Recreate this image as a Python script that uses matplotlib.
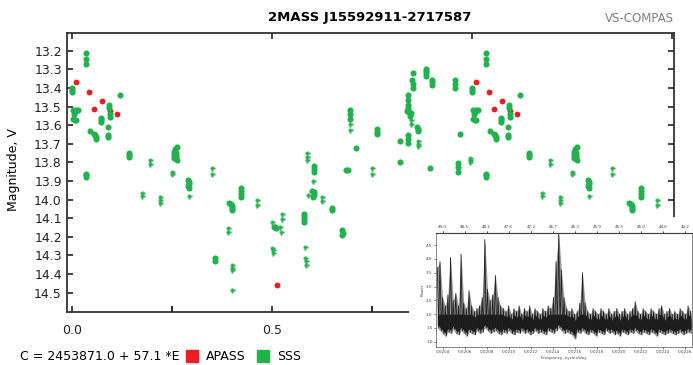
import numpy as np
import matplotlib
matplotlib.use("Agg")
import matplotlib.pyplot as plt
from matplotlib.lines import Line2D
from matplotlib.patches import Rectangle
from matplotlib.ticker import MultipleLocator

# phase-folded light curve, one cycle (0..1); shown again at phase + 1
sss_dot_phase = [0.000, 0.001, 0.002, 0.036, 0.036, 0.036, 0.122,
                 0.004, 0.008, 0.012, 0.015, 0.006,
                 0.094, 0.094, 0.095, 0.095, 0.004, 0.012, 0.008,
                 0.073, 0.073, 0.074, 0.091, 0.045,
                 0.056, 0.058, 0.060, 0.061, 0.092, 0.092,
                 0.143, 0.143, 0.143, 0.036, 0.036, 0.036,
                 0.258, 0.263, 0.255, 0.262, 0.256, 0.262, 0.257, 0.264,
                 0.292, 0.293, 0.294, 0.292, 0.293,
                 0.423, 0.423, 0.423, 0.423,
                 0.394, 0.399, 0.400, 0.400, 0.402,
                 0.505, 0.509, 0.512, 0.358, 0.358,
                 0.695, 0.695, 0.695, 0.764, 0.764, 0.764, 0.710,
                 0.607, 0.607, 0.607, 0.685, 0.690,
                 0.601, 0.605, 0.607, 0.603, 0.650, 0.651,
                 0.581, 0.581, 0.581, 0.581, 0.677, 0.679, 0.677,
                 0.885, 0.885, 0.885, 0.885, 0.854,
                 0.900, 0.900, 0.900, 0.958, 0.958, 0.958,
                 0.852, 0.853, 0.854, 0.842, 0.842, 0.842, 0.842,
                 0.838, 0.843, 0.848, 0.845, 0.864, 0.866, 0.866,
                 0.821, 0.842, 0.842, 0.842, 0.970, 0.821, 0.897,
                 0.966, 0.966, 0.966]
sss_dot_mag = [13.40, 13.41, 13.42, 13.21, 13.245, 13.27, 13.44,
               13.52, 13.53, 13.52, 13.52, 13.54,
               13.49, 13.51, 13.54, 13.555, 13.565, 13.57, 13.575,
               13.56, 13.57, 13.585, 13.61, 13.63,
               13.645, 13.655, 13.665, 13.675, 13.655, 13.665,
               13.75, 13.76, 13.77, 13.86, 13.87, 13.88,
               13.73, 13.72, 13.745, 13.75, 13.76, 13.765, 13.775, 13.79,
               13.895, 13.905, 13.915, 13.925, 13.94,
               13.94, 13.955, 13.97, 13.985,
               14.02, 14.025, 14.035, 14.045, 14.058,
               14.145, 14.15, 14.155, 14.315, 14.328,
               13.52, 13.54, 13.565, 13.62, 13.635, 13.65, 13.725,
               13.82, 13.835, 13.85, 13.84, 13.84,
               13.955, 13.96, 13.975, 13.985, 14.045, 14.055,
               14.075, 14.09, 14.105, 14.12, 14.165, 14.178, 14.19,
               13.30, 13.31, 13.32, 13.335, 13.32,
               13.355, 13.37, 13.385, 13.36, 13.38, 13.40,
               13.36, 13.38, 13.40, 13.44, 13.465, 13.49, 13.51,
               13.525, 13.53, 13.535, 13.55, 13.61, 13.62, 13.63,
               13.685, 13.655, 13.675, 13.695, 13.645, 13.80, 13.83,
               13.805, 13.825, 13.85]

sss_plus_phase = [0.197, 0.197, 0.177, 0.177, 0.221, 0.221, 0.221,
                  0.251, 0.251, 0.350, 0.350, 0.293, 0.464, 0.464, 0.500,
                  0.390, 0.390, 0.502, 0.503, 0.503,
                  0.400, 0.400, 0.400, 0.400,
                  0.696, 0.696, 0.589, 0.589, 0.589, 0.752, 0.752,
                  0.604, 0.592, 0.627, 0.625, 0.526, 0.527, 0.522, 0.523,
                  0.583, 0.584, 0.585, 0.586, 0.848, 0.848,
                  0.865, 0.865, 0.865, 0.996, 0.996, 0.996]
sss_plus_mag = [13.79, 13.81, 13.965, 13.98, 13.985, 14.00, 14.02,
                13.85, 13.865, 13.83, 13.86, 13.98, 14.00, 14.03, 14.12,
                14.155, 14.175, 14.26, 14.272, 14.285,
                14.35, 14.365, 14.38, 14.485,
                13.595, 13.625, 13.75, 13.77, 13.79, 13.83, 13.86,
                13.90, 13.975, 13.985, 14.005, 14.08, 14.105, 14.15, 14.175,
                14.257, 14.315, 14.33, 14.35, 13.575, 13.595,
                13.685, 13.70, 13.71, 13.775, 13.79, 13.80]

apass_phase = [0.011, 0.043, 0.077, 0.057, 0.113, 0.095, 0.514]
apass_mag = [13.367, 13.42, 13.47, 13.513, 13.54, 13.525, 14.46]

y_ticks = [13.2, 13.3, 13.4, 13.5, 13.6, 13.7, 13.8, 13.9,
           14.0, 14.1, 14.2, 14.3, 14.4, 14.5]

# periodogram in the pasted inset: upper and lower edge of the noise band
pgram_upper = [3.7, 3.9, 2.6, 2.3, 2.7, 4.05, 2.5, 2.75, 2.3, 4.17,
               2.4, 2.2, 2.85, 2.3, 2.1, 2.2, 2.3, 2.6, 4.7, 2.9,
               2.5, 2.7, 3.4, 2.6, 2.3, 2.2, 2.1, 2.3, 2.0, 2.2,
               2.1, 2.3, 2.0, 2.2, 2.1, 2.3, 2.0, 2.2, 2.1, 2.0,
               2.2, 2.1, 2.3, 2.2, 2.6, 3.9, 4.92, 3.6, 2.6, 2.2,
               2.1, 2.2, 2.0, 2.1, 2.4, 3.5, 2.4, 2.1, 2.0, 2.2,
               2.1, 2.0, 2.2, 2.1, 2.0, 2.2, 2.0, 2.1, 2.2, 2.0,
               2.1, 2.2, 2.0, 2.1, 2.2, 2.45, 2.1, 2.0, 2.2, 2.1,
               2.0, 2.2, 2.1, 2.0, 2.2, 2.3, 2.0, 2.1, 2.2, 2.0,
               2.1, 2.0, 2.2, 2.1, 2.0, 2.3, 2.1]
pgram_lower = [1.5, 1.4, 1.3, 1.2, 1.35, 1.3, 1.45, 1.3, 1.25, 1.4,
               1.3, 1.2, 1.35, 1.3, 1.25, 1.4, 1.3, 1.35, 1.5, 1.4,
               1.3, 1.35, 1.4, 1.3, 1.25, 1.35, 1.3, 1.4, 1.3, 1.25,
               1.35, 1.3, 1.4, 1.3, 1.35, 1.25, 1.3, 1.4, 1.3, 1.35,
               1.3, 1.25, 1.4, 1.35, 1.3, 1.4, 1.5, 1.4, 1.3, 1.35,
               1.3, 1.25, 1.1, 1.35, 1.3, 1.4, 1.3, 1.25, 1.35, 1.3,
               1.2, 1.35, 1.3, 1.25, 1.4, 1.3, 1.35, 1.25, 1.3, 1.2,
               1.35, 1.3, 1.25, 1.35, 1.3, 1.4, 1.3, 1.25, 1.35, 1.3,
               1.25, 1.35, 1.3, 1.2, 1.35, 1.3, 1.25, 1.3, 1.35, 1.3,
               1.25, 1.3, 1.35, 1.25, 1.3, 1.35, 1.3]
pgram_bottom_labels = ["0.0204", "0.0206", "0.0208", "0.0210", "0.0212", "0.0214",
                       "0.0216", "0.0218", "0.0220", "0.0222", "0.0224", "0.0226"]
pgram_top_labels = ["49.0", "48.5", "48.1", "47.6", "47.2", "46.7",
                    "46.3", "45.9", "45.5", "45.0", "44.6", "44.2"]

GREEN = "#22b14c"
RED = "#ed1c24"
W, H = 693, 365


def repeat_phase(ph, mag):
    ph = np.asarray(ph)
    mag = np.asarray(mag)
    keep = ph + 1 <= 1.5
    return np.concatenate([ph, ph[keep] + 1]), np.concatenate([mag, mag[keep]])


fig = plt.figure(figsize=(W / 100, H / 100), dpi=100)
ax = fig.add_axes([66.7 / W, 1 - 312 / H, (674 - 66.7) / W, (312 - 33) / H])

x, y = repeat_phase(apass_phase, apass_mag)
ax.plot(x, y, "o", color=RED, ms=4.2, mec="none")
x, y = repeat_phase(sss_plus_phase, sss_plus_mag)
ax.plot(x, y, "P", color=GREEN, ms=3.6, mec="none")
x, y = repeat_phase(sss_dot_phase, sss_dot_mag)
ax.plot(x, y, "o", color=GREEN, ms=4.4, mec="none")

ax.set_xlim(-0.0125, 1.506)
ax.set_ylim(14.604, 13.105)
ax.set_yticks(y_ticks)
ax.set_yticklabels([f"{v:.1f}" for v in y_ticks])
ax.set_xticks([0.0, 0.5, 1.0, 1.5])
ax.set_xticklabels(["0.0", "0.5", "1.0", "1.5"])
ax.xaxis.set_minor_locator(MultipleLocator(0.25))
ax.tick_params(which="major", direction="in", length=4, width=1.2,
               top=True, right=True, labelsize=9, colors="#222222")
ax.tick_params(axis="x", which="major", pad=9)
ax.tick_params(which="minor", direction="in", length=4, width=1.2,
               bottom=True, top=False, left=False, right=False)
for s in ax.spines.values():
    s.set_color("#333333")
    s.set_linewidth(1.3)

fig.text(370 / W, 1 - 18 / H, "2MASS J15592911-2717587", ha="center", va="center",
         fontsize=9.5, fontweight="bold")
fig.text(674 / W, 1 - 18 / H, "VS-COMPAS", ha="right", va="center",
         fontsize=8.5, color="#808080")
fig.text(14 / W, 1 - 170 / H, "Magnitude, V", rotation=90, ha="center",
         va="center", fontsize=9)
fig.text(20 / W, 1 - 357 / H, "C = 2453871.0 + 57.1 *E", ha="left",
         va="center", fontsize=9)
handles = [Line2D([], [], ls="none", marker="s", ms=9, color=RED),
           Line2D([], [], ls="none", marker="s", ms=9, color=GREEN)]
fig.legend(handles, ["APASS", "SSS"], ncol=2, frameon=False, fontsize=9,
           loc="center left", bbox_to_anchor=(186 / W, 1 - 357 / H),
           handletextpad=0.6, columnspacing=0.9, handlelength=1.0,
           borderaxespad=0, borderpad=0)

# pasted periodogram picture in the lower right corner
fig.patches.append(Rectangle((409 / W, 0), 284 / W, 148 / H, transform=fig.transFigure,
                             facecolor="white", edgecolor="none", zorder=1))
ins = fig.add_axes([436 / W, 1 - 346.7 / H, (692 - 436) / W, (346.7 - 232.7) / H],
                   zorder=2)
idx = np.arange(len(pgram_upper))
ins.fill_between(idx, pgram_lower, pgram_upper, color="#9a9a9a", lw=0)
core_lo = np.array(pgram_lower) + 0.12
core_hi = np.minimum(np.array(pgram_upper) - 0.22, 2.0)
ins.fill_between(idx, core_lo, core_hi, color="#1a1a1a", lw=0)
power = np.ravel(np.column_stack([pgram_upper, pgram_lower]))
ins.plot(np.arange(len(power)) / 2, power, color="#202020", lw=0.6)
ins.set_xlim(-0.5, 96.5)
ins.set_ylim(0.82, 4.95)
ins.set_yticks([1.0, 1.5, 2.0, 2.5, 3.0, 3.5, 4.0, 4.5])
ins.set_xticks(np.linspace(2, 94, len(pgram_bottom_labels)))
ins.set_xticklabels(pgram_bottom_labels)
ins.tick_params(labelsize=3, length=1.5, width=0.5, pad=1, colors="#444444",
                top=True, labeltop=False)
top = ins.secondary_xaxis("top")
top.set_xticks(np.linspace(2, 94, len(pgram_top_labels)))
top.set_xticklabels(pgram_top_labels)
top.tick_params(labelsize=3, length=1.5, width=0.5, pad=1, colors="#444444")
ins.set_xlabel("Frequency, cycles/day", fontsize=3, labelpad=1, color="#444444")
ins.set_ylabel("Power", fontsize=3, labelpad=1, color="#444444")
for s in ins.spines.values():
    s.set_linewidth(0.5)
    s.set_color("#555555")

fig.savefig("out.png", dpi=100)
